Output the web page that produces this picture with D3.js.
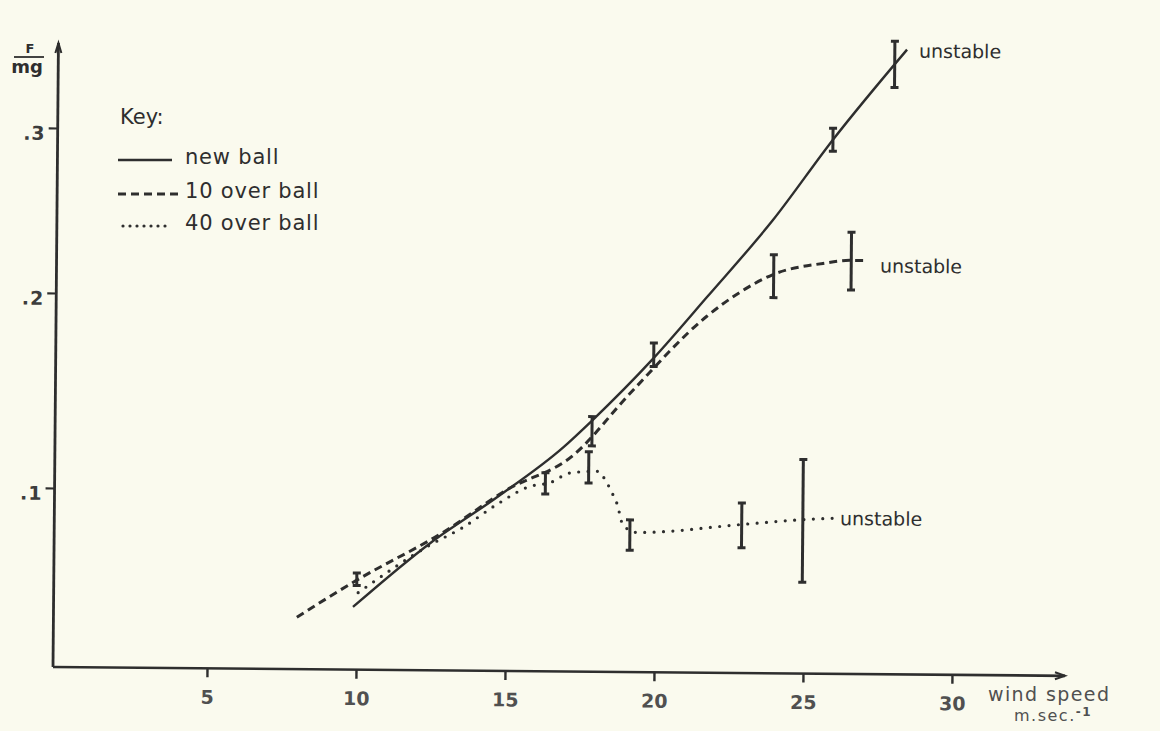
<!DOCTYPE html>
<html>
<head>
<meta charset="utf-8">
<script src="https://cdn.jsdelivr.net/npm/d3@7"></script>
<style>
  body { margin: 0; background: #fafaee; }
  svg { display: block; }
  text { font-family: "DejaVu Sans", sans-serif; }
</style>
</head>
<body>
<svg width="1160" height="731"></svg>
<script>
const WIDTH = 1160;
const HEIGHT = 731;
const ORIGIN_X = 53;
const ORIGIN_Y = 667;
const TILT = 0.5; // the scanned page sits a little crooked
const AXIS_RIGHT = 1012;
const AXIS_TOP = -624;

const INK = '#2e2e2e';
const PAPER = '#fafaee';
const LABEL_INK = '#505050';

const xTicks = [5, 10, 15, 20, 25, 30];
const yTicks = [0.1, 0.2, 0.3];
const yTickLabels = ['.1', '.2', '.3'];

const seriesNames = ['new ball', '10 over ball', '40 over ball'];

// new ball
const newBallX = [9.88, 12.45, 14.68, 16.88, 17.85, 19.88, 21.67, 23.86, 25.85, 28.31];
const newBallY = [0.035, 0.071, 0.097, 0.123, 0.137, 0.169, 0.201, 0.248, 0.297, 0.352];
const newBallBarX = [19.9, 25.85, 27.9];
const newBallBarLo = [0.165, 0.29, 0.329];
const newBallBarHi = [0.177, 0.304, 0.357];

// 10 over ball
const tenOverX = [8.0, 10.0, 12.87, 15.0, 17.22, 19.11, 21.67, 22.77, 23.88, 25.55, 26.46, 27.03];
const tenOverY = [0.029, 0.05, 0.077, 0.101, 0.119, 0.151, 0.191, 0.204, 0.215, 0.222, 0.224, 0.224];
const tenOverBarX = [10.0, 17.85, 23.9, 26.5];
const tenOverBarLo = [0.047, 0.124, 0.201, 0.206];
const tenOverBarHi = [0.054, 0.139, 0.227, 0.241];

// 40 over ball
const fortyOverX = [10.05, 12.45, 13.55, 14.68, 15.79, 16.47, 17.12, 18.03, 18.37, 18.54, 18.71, 18.92, 19.39, 22.91, 24.96, 26.1];
const fortyOverY = [0.043, 0.070, 0.080, 0.093, 0.103, 0.105, 0.110, 0.111, 0.105, 0.100, 0.094, 0.082, 0.078, 0.083, 0.086, 0.087];
const fortyOverBarX = [16.3, 17.75, 19.15, 22.9, 24.95];
const fortyOverBarLo = [0.099, 0.105, 0.068, 0.07, 0.051];
const fortyOverBarHi = [0.11, 0.121, 0.085, 0.095, 0.118];

const zip = (xs, ys) => xs.map((d, i) => [d, ys[i]]);
const bars = (xs, lo, hi) => xs.map((d, i) => ({ x: d, lo: lo[i], hi: hi[i] }));

const series = [
  { name: seriesNames[0], points: zip(newBallX, newBallY), bars: bars(newBallBarX, newBallBarLo, newBallBarHi),
    dash: null, width: 2.4, cap: 'butt', labelDx: 12, labelDy: 8 },
  { name: seriesNames[1], points: zip(tenOverX, tenOverY), bars: bars(tenOverBarX, tenOverBarLo, tenOverBarHi),
    dash: '8,5', width: 3, cap: 'butt', labelDx: 13, labelDy: 12 },
  { name: seriesNames[2], points: zip(fortyOverX, fortyOverY), bars: bars(fortyOverBarX, fortyOverBarLo, fortyOverBarHi),
    dash: '0,9.4', width: 3.2, cap: 'round', labelDx: 3, labelDy: 7 },
];

const svg = d3.select('svg');
svg.append('rect').attr('width', WIDTH).attr('height', HEIGHT).attr('fill', PAPER);

const x = d3.scaleLinear().domain([5, 30]).range([154, 899]);
// hand drawn axis: the tick marks are not evenly spaced
const y = d3.scaleLinear().domain([0, 0.1, 0.2, 0.3]).range([0, -179, -374, -539]);

const plot = svg.append('g')
  .attr('transform', `translate(${ORIGIN_X},${ORIGIN_Y}) rotate(${TILT})`);

// x axis
const xAxis = plot.append('g')
  .call(d3.axisBottom(x).tickValues(xTicks).tickSize(9).tickPadding(13).tickFormat(d3.format('d')));
xAxis.select('.domain').remove();
xAxis.selectAll('line').attr('stroke', INK).attr('stroke-width', 2.4);
xAxis.selectAll('text')
  .attr('font-size', 19)
  .attr('font-weight', 'bold')
  .attr('font-family', '"DejaVu Sans", sans-serif')
  .attr('fill', LABEL_INK);

// y axis
const yAxis = plot.append('g')
  .call(d3.axisLeft(y).tickValues(yTicks).tickSize(9).tickPadding(3).tickFormat((d, i) => yTickLabels[i]));
yAxis.select('.domain').remove();
yAxis.selectAll('line').attr('stroke', INK).attr('stroke-width', 2.2);
yAxis.selectAll('text')
  .attr('font-size', 19)
  .attr('font-weight', 'bold')
  .attr('letter-spacing', 1)
  .attr('dy', '0.6em')
  .attr('font-family', '"DejaVu Sans", sans-serif')
  .attr('fill', '#3c3c3c');

plot.append('line')
  .attr('x1', 0).attr('y1', 0).attr('x2', AXIS_RIGHT).attr('y2', 0)
  .attr('stroke', INK).attr('stroke-width', 2.6);
plot.append('line')
  .attr('x1', 0).attr('y1', 0).attr('x2', 0).attr('y2', AXIS_TOP)
  .attr('stroke', INK).attr('stroke-width', 2.8);

plot.append('path')
  .attr('d', `M${AXIS_RIGHT - 10},-3.5L${AXIS_RIGHT},0L${AXIS_RIGHT - 10},3.5`)
  .attr('fill', 'none').attr('stroke', INK).attr('stroke-width', 2);
plot.append('path')
  .attr('d', `M-3,${AXIS_TOP + 10}L0,${AXIS_TOP}L3,${AXIS_TOP + 10}`)
  .attr('fill', 'none').attr('stroke', INK).attr('stroke-width', 2);

// curves
const line = d3.line()
  .x(d => x(d[0]))
  .y(d => y(d[1]))
  .curve(d3.curveMonotoneX);

plot.selectAll('path.curve')
  .data(series)
  .enter()
  .append('path')
  .attr('class', 'curve')
  .attr('d', d => line(d.points))
  .attr('fill', 'none')
  .attr('stroke', INK)
  .attr('stroke-width', d => d.width)
  .attr('stroke-linecap', d => d.cap)
  .attr('stroke-dasharray', d => d.dash);

// error bars
const barGroups = plot.selectAll('g.bars')
  .data(series)
  .enter()
  .append('g')
  .attr('class', 'bars')
  .attr('stroke', INK);

barGroups.each(function(s) {
  const g = d3.select(this).selectAll('g')
    .data(s.bars)
    .enter()
    .append('g');

  g.append('line')
    .attr('x1', d => x(d.x)).attr('x2', d => x(d.x))
    .attr('y1', d => y(d.lo)).attr('y2', d => y(d.hi))
    .attr('stroke-width', 3);

  g.append('line')
    .attr('x1', d => x(d.x) - 4).attr('x2', d => x(d.x) + 4)
    .attr('y1', d => y(d.lo)).attr('y2', d => y(d.lo))
    .attr('stroke-width', 3);

  g.append('line')
    .attr('x1', d => x(d.x) - 4).attr('x2', d => x(d.x) + 4)
    .attr('y1', d => y(d.hi)).attr('y2', d => y(d.hi))
    .attr('stroke-width', 3);
});

// "unstable" at the end of each curve
plot.selectAll('text.unstable')
  .data(series)
  .enter()
  .append('text')
  .attr('class', 'unstable')
  .attr('x', d => x(d.points[d.points.length - 1][0]) + d.labelDx)
  .attr('y', d => y(d.points[d.points.length - 1][1]) + d.labelDy)
  .attr('font-size', 19)
  .attr('fill', INK)
  .text('unstable');

// axis titles
svg.append('text')
  .attr('x', 988).attr('y', 701)
  .attr('font-size', 19)
  .attr('letter-spacing', 1.4)
  .attr('fill', LABEL_INK)
  .text('wind speed');

const unit = svg.append('text')
  .attr('x', 1014).attr('y', 721)
  .attr('font-size', 16)
  .attr('letter-spacing', 1.5)
  .attr('fill', LABEL_INK);
unit.append('tspan').text('m.sec.');
unit.append('tspan').attr('dy', -5).attr('font-size', 12).attr('font-weight', 'bold').text('-1');

svg.append('text')
  .attr('x', 30).attr('y', 53)
  .attr('text-anchor', 'middle')
  .attr('font-size', 13)
  .attr('font-weight', 'bold')
  .attr('fill', INK)
  .text('F');
svg.append('line')
  .attr('x1', 14).attr('x2', 44).attr('y1', 57).attr('y2', 57)
  .attr('stroke', INK).attr('stroke-width', 1.8);
svg.append('text')
  .attr('x', 27).attr('y', 73)
  .attr('text-anchor', 'middle')
  .attr('font-size', 18)
  .attr('font-weight', 'bold')
  .attr('fill', INK)
  .text('mg');

// key
const KEY_X = 118;
const KEY_TEXT_X = 185;
const keyRows = [160, 194, 226];

svg.append('text')
  .attr('x', KEY_X + 2).attr('y', 124)
  .attr('font-size', 21)
  .attr('fill', INK)
  .text('Key:');

const key = svg.selectAll('g.key')
  .data(series)
  .enter()
  .append('g')
  .attr('class', 'key')
  .attr('transform', (d, i) => `translate(0,${keyRows[i]})`);

key.append('line')
  .attr('x1', (d, i) => KEY_X + (i === 2 ? 5 : 0))
  .attr('x2', (d, i) => i === 1 ? 178 : 172)
  .attr('y1', 0).attr('y2', 0)
  .attr('stroke', INK)
  .attr('stroke-width', d => d.width)
  .attr('stroke-linecap', d => d.cap)
  .attr('stroke-dasharray', d => d.dash ? d.dash.replace('9.4', '7') : null);

key.append('text')
  .attr('x', KEY_TEXT_X)
  .attr('y', 4)
  .attr('font-size', 21)
  .attr('letter-spacing', 0.8)
  .attr('fill', INK)
  .text(d => d.name);
</script>
</body>
</html>
